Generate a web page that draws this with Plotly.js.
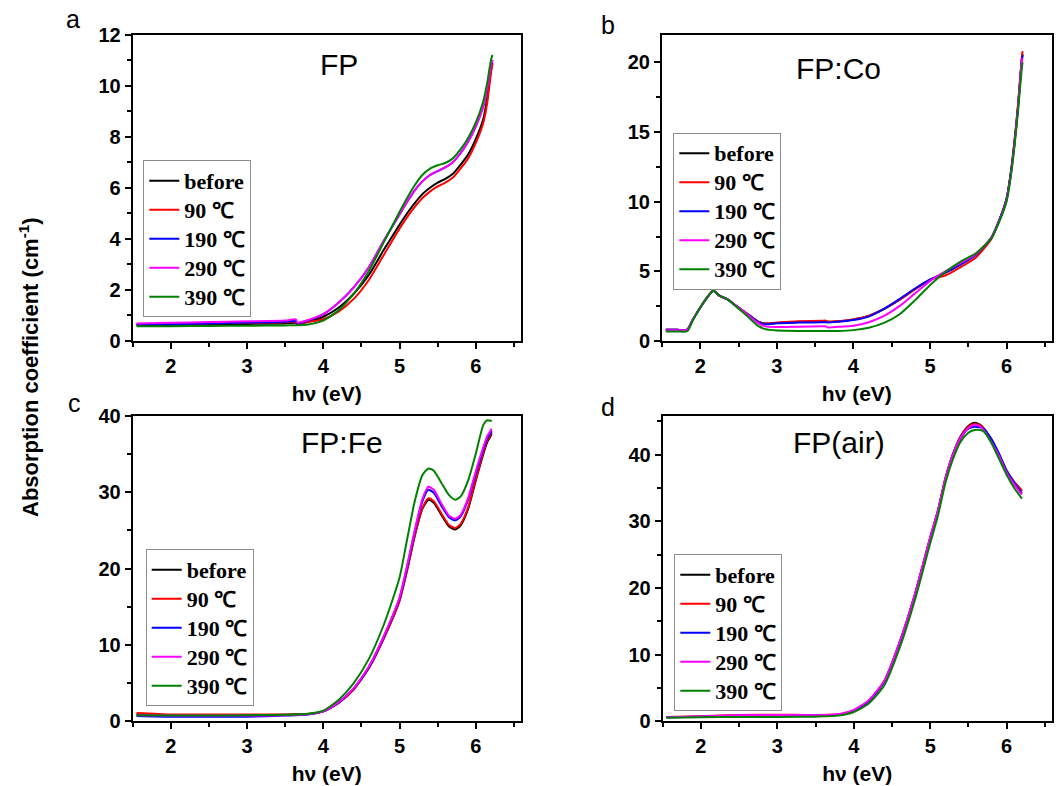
<!DOCTYPE html>
<html>
<head>
<meta charset="utf-8">
<script src="https://cdn.plot.ly/plotly-3.0.1.min.js"></script>
<style>html,body{margin:0;padding:0;background:#fff}#chart{width:1062px;height:786px}</style>
</head>
<body>
<div id="chart"></div>
<script>
// ---------- series names ----------
const seriesNames = ["before", "90 \u2103", "190 \u2103", "290 \u2103", "390 \u2103"];
const seriesColors = ["#000000", "#ff0000", "#0000ff", "#ff00ff", "#008000"];
const panelTitles = ["FP", "FP:Co", "FP:Fe", "FP(air)"];
const panelLetters = ["a", "b", "c", "d"];

// ---------- panel a : FP ----------
const xA = [1.55,2.0,2.5,3.0,3.5,3.64,3.66,3.8,4.0,4.2,4.4,4.6,4.8,5.0,5.1,5.2,5.3,5.4,5.5,5.6,5.7,5.8,5.9,6.0,6.1,6.15,6.2,6.22];
const aBefore = [0.62,0.63,0.65,0.67,0.69,0.71,0.66,0.75,0.95,1.30,1.85,2.60,3.60,4.55,5.00,5.40,5.75,6.00,6.20,6.35,6.55,6.90,7.30,7.90,8.70,9.50,10.6,10.9];
const a90    = [0.66,0.67,0.69,0.71,0.73,0.76,0.70,0.74,0.85,1.15,1.65,2.40,3.40,4.40,4.85,5.25,5.60,5.85,6.05,6.20,6.40,6.75,7.15,7.75,8.55,9.30,10.5,10.85];
const a190   = [0.64,0.66,0.69,0.72,0.75,0.79,0.70,0.80,1.05,1.50,2.10,2.90,3.95,4.95,5.45,5.90,6.25,6.50,6.65,6.80,7.00,7.35,7.80,8.40,9.20,9.90,10.8,11.0];
const a290   = [0.69,0.71,0.74,0.77,0.80,0.85,0.72,0.82,1.05,1.50,2.10,2.90,3.95,4.95,5.45,5.90,6.25,6.50,6.65,6.80,7.00,7.35,7.80,8.40,9.20,9.90,10.8,11.0];
const a390   = [0.58,0.58,0.59,0.60,0.61,0.62,0.62,0.65,0.80,1.20,1.85,2.75,3.90,5.05,5.60,6.10,6.50,6.75,6.88,6.97,7.15,7.50,7.95,8.55,9.40,10.1,11.0,11.2];

// ---------- panel b : FP:Co ----------
const xB = [1.55,1.7,1.83,1.9,2.0,2.1,2.17,2.25,2.35,2.45,2.55,2.65,2.75,2.85,3.0,3.3,3.6,3.64,3.66,3.8,4.0,4.2,4.4,4.6,4.8,5.0,5.2,5.4,5.6,5.8,5.9,6.0,6.05,6.1,6.15,6.2,6.21];
const bBefore = [0.80,0.80,0.82,1.50,2.40,3.20,3.60,3.25,3.00,2.60,2.20,1.80,1.40,1.25,1.30,1.38,1.42,1.42,1.38,1.42,1.55,1.80,2.30,2.95,3.70,4.40,4.90,5.50,6.20,7.40,8.60,10.2,11.8,14.0,16.8,20.2,20.6];
const b90    = [0.80,0.80,0.82,1.50,2.40,3.20,3.60,3.25,3.00,2.60,2.20,1.80,1.40,1.25,1.32,1.42,1.46,1.46,1.40,1.42,1.55,1.80,2.30,2.95,3.70,4.40,4.70,5.30,6.00,7.30,8.60,10.2,11.9,14.2,17.0,20.4,20.8];
const b190   = [0.80,0.80,0.82,1.50,2.40,3.20,3.60,3.25,3.00,2.60,2.20,1.80,1.38,1.20,1.28,1.32,1.35,1.35,1.32,1.38,1.50,1.75,2.30,3.00,3.75,4.40,4.90,5.50,6.20,7.40,8.60,10.2,11.8,14.0,16.8,20.2,20.5];
const b290   = [0.78,0.78,0.80,1.50,2.40,3.20,3.60,3.25,3.00,2.60,2.20,1.75,1.30,1.05,1.00,1.02,1.05,1.05,0.98,1.02,1.10,1.35,1.80,2.50,3.40,4.30,5.00,5.60,6.25,7.40,8.55,10.1,11.7,13.9,16.7,20.1,20.3];
const b390   = [0.68,0.68,0.70,1.45,2.40,3.20,3.60,3.25,3.00,2.55,2.10,1.60,1.10,0.85,0.75,0.72,0.72,0.72,0.72,0.72,0.78,0.95,1.30,1.90,2.90,4.00,4.95,5.70,6.30,7.35,8.50,10.0,11.6,13.8,16.5,19.6,20.0];

// ---------- panel c : FP:Fe ----------
const xC = [1.55,2.0,2.5,3.0,3.5,3.8,4.0,4.2,4.4,4.6,4.8,5.0,5.1,5.2,5.3,5.38,5.45,5.55,5.65,5.73,5.8,5.9,6.0,6.1,6.15,6.21];
const cBefore = [0.90,0.80,0.80,0.80,0.85,0.95,1.30,2.40,4.20,7.00,11.0,15.8,19.8,24.3,27.8,29.0,28.6,27.0,25.5,25.1,25.6,27.8,31.5,35.0,36.5,37.6];
const c90    = [1.10,0.90,0.90,0.90,0.90,0.95,1.30,2.40,4.20,7.00,11.0,15.8,19.8,24.3,27.9,29.2,28.8,27.2,25.7,25.3,25.8,28.0,31.7,35.2,36.7,37.8];
const c190   = [0.70,0.60,0.60,0.60,0.75,0.90,1.30,2.45,4.30,7.10,11.2,16.1,20.2,24.8,28.8,30.3,29.9,28.2,26.7,26.3,26.8,29.0,32.4,35.6,37.0,38.0];
const c290   = [0.80,0.75,0.75,0.75,0.80,0.92,1.30,2.50,4.35,7.20,11.3,16.2,20.4,25.0,29.1,30.7,30.3,28.5,26.9,26.5,27.0,29.2,32.7,35.9,37.3,38.3];
const c390   = [0.80,0.75,0.75,0.80,0.85,1.00,1.40,2.80,5.00,8.20,12.8,18.8,23.8,28.8,32.2,33.1,32.8,31.2,29.6,29.0,29.4,31.5,35.0,38.8,39.4,39.3];

// ---------- panel d : FP(air) ----------
const xD = [1.55,2.0,2.5,3.0,3.5,3.8,4.0,4.2,4.4,4.6,4.8,5.0,5.1,5.2,5.3,5.4,5.5,5.58,5.65,5.7,5.8,5.9,6.0,6.1,6.2];
const dBefore = [0.60,0.70,0.85,0.90,0.90,1.00,1.60,3.10,6.00,11.8,19.0,27.5,31.5,36.5,40.2,42.8,44.3,44.8,44.5,44.0,42.2,40.0,37.6,35.9,34.6];
const d90    = [0.65,0.75,0.95,1.00,0.95,1.05,1.60,3.10,6.00,11.8,19.0,27.5,31.5,36.4,40.1,42.7,44.2,44.6,44.4,43.9,42.2,40.0,37.6,35.9,34.6];
const d190   = [0.60,0.70,0.85,0.90,0.90,1.00,1.60,3.10,6.00,11.8,19.0,27.5,31.5,36.3,40.0,42.5,43.9,44.2,44.1,43.9,42.4,40.2,37.6,35.8,34.2];
const d290   = [0.62,0.72,0.92,0.95,0.92,1.05,1.70,3.20,6.10,11.9,19.1,27.6,31.6,36.5,40.1,42.6,44.0,44.5,44.3,43.7,41.9,39.8,37.3,35.5,34.0];
const d390   = [0.55,0.60,0.65,0.65,0.70,0.85,1.40,2.70,5.40,11.0,18.2,26.7,30.8,35.8,39.4,42.0,43.3,43.7,43.7,43.5,41.8,39.4,37.0,35.0,33.4];

const panels = [
  {x: xA, ys: [aBefore, a90, a190, a290, a390]},
  {x: xB, ys: [bBefore, b90, b190, b290, b390]},
  {x: xC, ys: [cBefore, c90, c190, c290, c390]},
  {x: xD, ys: [dBefore, d90, d190, d290, d390]}
];

// ---------- layout geometry (px) ----------
const W = 1062, H = 786;
const boxes = [
  {l: 132.7, r: 520.7, t: 34.5, b: 341},
  {l: 662.0, r: 1051.7, t: 34.5, b: 341},
  {l: 132.7, r: 520.7, t: 415.7, b: 721.3},
  {l: 662.7, r: 1051.7, t: 415.7, b: 721.3}
];
const yRanges = [[0, 12], [0, 22], [0, 40], [0, 45.85]];
const yDticks = [2, 5, 10, 10];
const legendPos = [[143.3, 160.3], [673.3, 132.7], [145.7, 549.3], [674.3, 554.3]];
const titlePos = [[339, 64], [838, 69], [342, 443], [839, 443]];
const letterPos = [[73, 19], [608, 25], [74, 403], [608, 407]];

const tickFont = {family: "Arial, 'Liberation Sans', sans-serif", size: 20, color: "#000", weight: "bold"};
const legFont = {family: "'Times New Roman', 'Liberation Serif', serif", size: 20, color: "#000", weight: "bold"};

const traces = [];
const layout = {
  width: W, height: H,
  margin: {l: 0, r: 0, t: 0, b: 0},
  paper_bgcolor: "#fff", plot_bgcolor: "#fff",
  showlegend: true,
  annotations: [],
  font: {family: "Arial, 'Liberation Sans', sans-serif", color: "#000"}
};

panels.forEach((p, i) => {
  const n = i + 1;
  const xa = "x" + (n === 1 ? "" : n), ya = "y" + (n === 1 ? "" : n);
  const legName = "legend" + (n === 1 ? "" : n);
  p.ys.forEach((y, k) => {
    traces.push({
      type: "scatter", mode: "lines", x: p.x, y: y,
      name: "<span style=\"font-size:22px\">" + seriesNames[k] + "</span>",
      xaxis: xa, yaxis: ya, legend: legName,
      line: {color: seriesColors[k], width: 2, shape: "spline", smoothing: 0.6}
    });
  });
  const bx = boxes[i];
  const axCommon = {
    showline: true, linecolor: "#000", linewidth: 2, mirror: true,
    ticks: "outside", ticklen: 6, tickwidth: 2, tickcolor: "#000",
    showgrid: false, zeroline: false, tickfont: tickFont
  };
  layout["xaxis" + (n === 1 ? "" : n)] = Object.assign({}, axCommon, {
    domain: [bx.l / W, bx.r / W], anchor: ya,
    range: [1.5, 6.59], tick0: 0, dtick: 1,
    minor: {dtick: 0.5, ticks: "outside", ticklen: 4, tickwidth: 2, tickcolor: "#000"},
    title: {text: "h\u03bd (eV)", font: {family: "Arial, 'Liberation Sans', sans-serif", size: 21, weight: "bold", color: "#000"}, standoff: 10}
  });
  layout["yaxis" + (n === 1 ? "" : n)] = Object.assign({}, axCommon, {
    domain: [1 - bx.b / H, 1 - bx.t / H], anchor: xa,
    range: yRanges[i], tick0: 0, dtick: yDticks[i],
    minor: {dtick: yDticks[i] / 2, ticks: "outside", ticklen: 4, tickwidth: 2, tickcolor: "#000"}
  });
  layout[legName] = {
    x: legendPos[i][0] / W, y: 1 - legendPos[i][1] / H, xanchor: "left", yanchor: "top",
    xref: "paper", yref: "paper",
    bgcolor: "#fff", bordercolor: "#8c8c8c", borderwidth: 1,
    font: legFont, traceorder: "normal", tracegroupgap: 0
  };
  layout.annotations.push({
    xref: "paper", yref: "paper", x: titlePos[i][0] / W, y: 1 - titlePos[i][1] / H,
    xanchor: "center", yanchor: "middle", showarrow: false, text: panelTitles[i],
    font: {family: "Arial, 'Liberation Sans', sans-serif", size: 30, color: "#000"}
  });
  layout.annotations.push({
    xref: "paper", yref: "paper", x: letterPos[i][0] / W, y: 1 - letterPos[i][1] / H,
    xanchor: "center", yanchor: "middle", showarrow: false, text: panelLetters[i],
    font: {family: "Arial, 'Liberation Sans', sans-serif", size: 25, color: "#000"}
  });
});

layout.annotations.push({
  xref: "paper", yref: "paper", x: 29 / W, y: 1 - 367 / H,
  xanchor: "center", yanchor: "middle", showarrow: false, textangle: -90,
  text: "Absorption coefficient (cm<sup>-1</sup>)",
  font: {family: "Arial, 'Liberation Sans', sans-serif", size: 22, weight: "bold", color: "#000"}
});

Plotly.newPlot("chart", traces, layout, {displayModeBar: false, staticPlot: true});
</script>
</body>
</html>
